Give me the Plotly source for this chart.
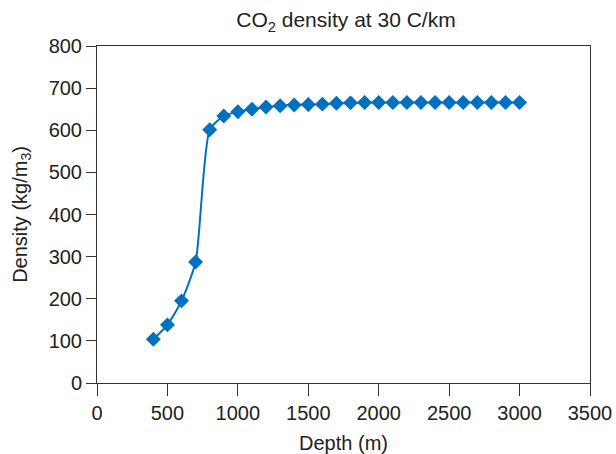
import plotly.graph_objects as go

depth = [400, 500, 600, 700, 800, 900, 1000, 1100, 1200, 1300, 1400, 1500, 1600, 1700,
         1800, 1900, 2000, 2100, 2200, 2300, 2400, 2500, 2600, 2700, 2800, 2900, 3000]
density = [104, 138, 195, 287, 601, 634, 644, 650, 655, 658, 660, 661, 662, 664,
           665, 666, 666, 666, 666, 666, 666, 666, 666, 666, 666, 666, 666]

color = "#0070C0"
fig = go.Figure()
fig.add_trace(go.Scatter(
    x=depth, y=density, mode="lines+markers",
    line=dict(color=color, width=2, shape="spline", smoothing=0.6),
    marker=dict(symbol="diamond", size=11.5, color=color),
    showlegend=False,
))

font = dict(family="Liberation Sans, Arial, sans-serif", size=20, color="#222222")
fig.update_layout(
    width=616, height=454,
    margin=dict(l=97, r=26, t=46, b=71),
    paper_bgcolor="white", plot_bgcolor="white",
    font=font,
    title=dict(text="CO<sub>2</sub> density at 30 C/km", x=0.505, xanchor="center",
               xref="paper", y=0.956, yanchor="middle", font=dict(size=21)),
    xaxis=dict(range=[0, 3500], dtick=500, tick0=0, showgrid=False, zeroline=False,
               showline=True, linecolor="#333333", linewidth=1, mirror=True,
               ticks="outside", ticklen=12, tickcolor="#333333", automargin=False,
               ticklabeloverflow="allow",
               title=dict(text="Depth (m)", standoff=17, font=dict(size=20))),
    yaxis=dict(range=[0, 800], dtick=100, tick0=0, showgrid=False, zeroline=False,
               showline=True, linecolor="#333333", linewidth=1, mirror=True,
               ticks="outside", ticklen=10, tickcolor="#333333", automargin=False,
               title=dict(text="Density (kg/m<sub>3</sub>)", standoff=15, font=dict(size=20))),
)
fig.write_html("out.html", config={"displayModeBar": False})

with open("out.html", "r", encoding="utf-8") as f:
    html = f.read()
html = html.replace("<head>", "<head><style>html,body{margin:0;padding:0;overflow:hidden;}</style>", 1)
with open("out.html", "w", encoding="utf-8") as f:
    f.write(html)
